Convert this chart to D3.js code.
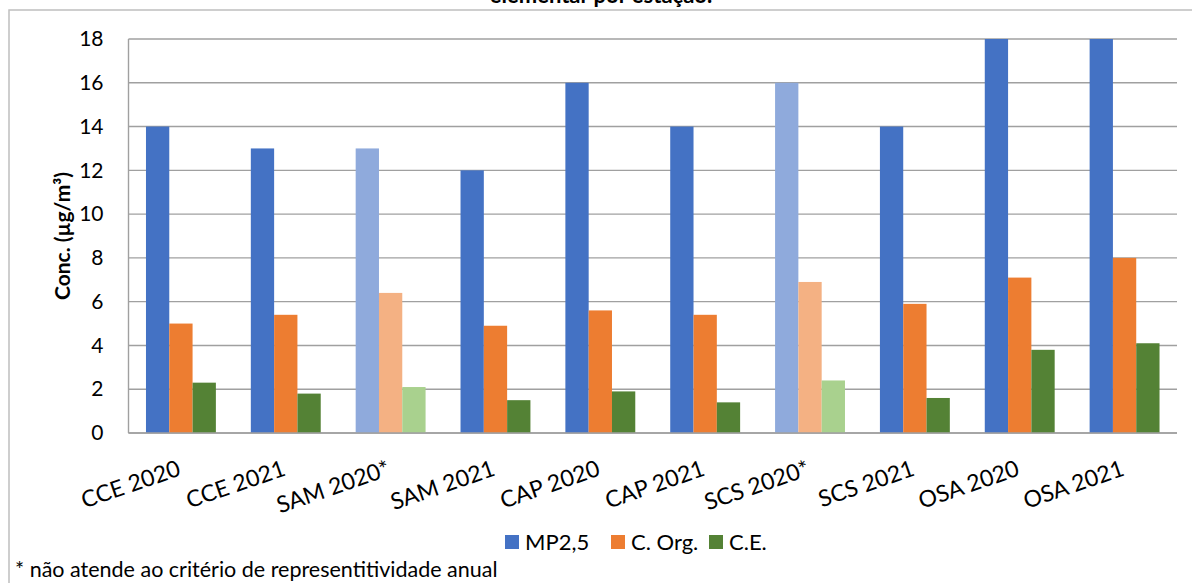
<!DOCTYPE html>
<html>
<head>
<meta charset="utf-8">
<script src="https://cdn.jsdelivr.net/npm/d3@7"></script>
<style>
  html, body { margin: 0; padding: 0; background: #fff; }
  svg { display: block; }
  text { font-family: Lato, "Open Sans", sans-serif; fill: #000; }
</style>
</head>
<body>
<svg id="chart" width="1192" height="583"></svg>
<script>
// Stations / years
const categories = ["CCE 2020", "CCE 2021", "SAM 2020*", "SAM 2021", "CAP 2020",
                    "CAP 2021", "SCS 2020*", "SCS 2021", "OSA 2020", "OSA 2021"];
// Concentrations (µg/m³)
const mp25  = [14, 13, 13, 12, 16, 14, 16, 14, 18, 18];
const cOrg  = [5.0, 5.4, 6.4, 4.9, 5.6, 5.4, 6.9, 5.9, 7.1, 8.0];
const cEl   = [2.3, 1.8, 2.1, 1.5, 1.9, 1.4, 2.4, 1.6, 3.8, 4.1];
// Stations that do not meet the annual representativeness criterion
const notRepresentative = ["SAM 2020*", "SCS 2020*"];
const seriesNames = ["MP2,5", "C. Org.", "C.E."];
const yTicks = [0, 2, 4, 6, 8, 10, 12, 14, 16, 18];

const colors      = ["#4472C4", "#ED7D31", "#548235"];
const lightColors = ["#8FAADC", "#F4B183", "#A9D18E"];

const series = [mp25, cOrg, cEl];

const svg = d3.select("#chart");
const plot = { left: 128.5, right: 1177, top: 39, bottom: 433 };

// outer frame (extends beyond the visible area on the right and bottom)
svg.append("rect")
  .attr("x", 9).attr("y", 10)
  .attr("width", 1300).attr("height", 700)
  .attr("fill", "none").attr("stroke", "#BFBFBF").attr("stroke-width", 1.5);

// title (second line)
svg.append("text")
  .attr("x", 601).attr("y", 3)
  .attr("text-anchor", "middle")
  .attr("font-size", 22).attr("font-weight", "bold")
  .text("elementar por estação.");

const x = d3.scaleBand()
  .domain(categories)
  .range([plot.left, plot.right])
  .paddingInner(0).paddingOuter(0);

const y = d3.scaleLinear().domain([0, 18]).range([plot.bottom, plot.top]);

// gridlines
svg.append("g")
  .selectAll("line")
  .data(yTicks)
  .join("line")
  .attr("x1", plot.left).attr("x2", plot.right)
  .attr("y1", d => y(d)).attr("y2", d => y(d))
  .attr("stroke", "#A0A0A0").attr("stroke-width", 1.4);

// left axis line
svg.append("line")
  .attr("x1", plot.left).attr("x2", plot.left)
  .attr("y1", plot.top).attr("y2", plot.bottom)
  .attr("stroke", "#A0A0A0").attr("stroke-width", 1.4);

// y axis tick labels
const yAxis = d3.axisLeft(y).tickValues(yTicks).tickSize(0).tickPadding(25);
const yg = svg.append("g").attr("transform", `translate(${plot.left},0)`).call(yAxis);
yg.select(".domain").remove();
yg.selectAll("text")
  .attr("font-size", 21)
  .attr("font-family", "Lato, 'Open Sans', sans-serif")
  .attr("fill", "#000");

// y axis title
svg.append("text")
  .attr("transform", `translate(70,${(plot.top + plot.bottom) / 2}) rotate(-90)`)
  .attr("text-anchor", "middle")
  .attr("font-size", 21).attr("font-weight", "bold")
  .text("Conc. (µg/m³)");

// bars: gap width 150% → 3 bars + 1.5 bar gap per category
const bw = x.bandwidth() / 4.5;
const groups = svg.append("g")
  .selectAll("g")
  .data(categories)
  .join("g")
  .attr("transform", d => `translate(${x(d) + bw * 0.75},0)`);

series.forEach((vals, si) => {
  groups.append("rect")
    .attr("x", si * bw)
    .attr("width", bw)
    .attr("y", (d, i) => y(vals[i]))
    .attr("height", (d, i) => y(0) - y(vals[i]))
    .attr("fill", d => notRepresentative.includes(d) ? lightColors[si] : colors[si]);
});

// x axis baseline
svg.append("line")
  .attr("x1", plot.left).attr("x2", plot.right)
  .attr("y1", plot.bottom).attr("y2", plot.bottom)
  .attr("stroke", "#A0A0A0").attr("stroke-width", 1.4);

// rotated category labels
svg.append("g")
  .selectAll("text")
  .data(categories)
  .join("text")
  .attr("transform", d => `translate(${x(d) + x.bandwidth() / 2 + 1},475) rotate(-19)`)
  .attr("text-anchor", "end")
  .attr("font-size", 23)
  .text(d => d);

// legend
const legendX = [505, 611, 709];
const lg = svg.append("g")
  .selectAll("g")
  .data(seriesNames)
  .join("g")
  .attr("transform", (d, i) => `translate(${legendX[i]},535)`);
lg.append("rect").attr("width", 14).attr("height", 14).attr("fill", (d, i) => colors[i]);
lg.append("text").attr("x", 20).attr("y", 15).attr("font-size", 22).text(d => d);

// footnote
svg.append("text")
  .attr("x", 15).attr("y", 577)
  .attr("font-size", 21.5)
  .text("* não atende ao critério de representitividade anual");
</script>
</body>
</html>
